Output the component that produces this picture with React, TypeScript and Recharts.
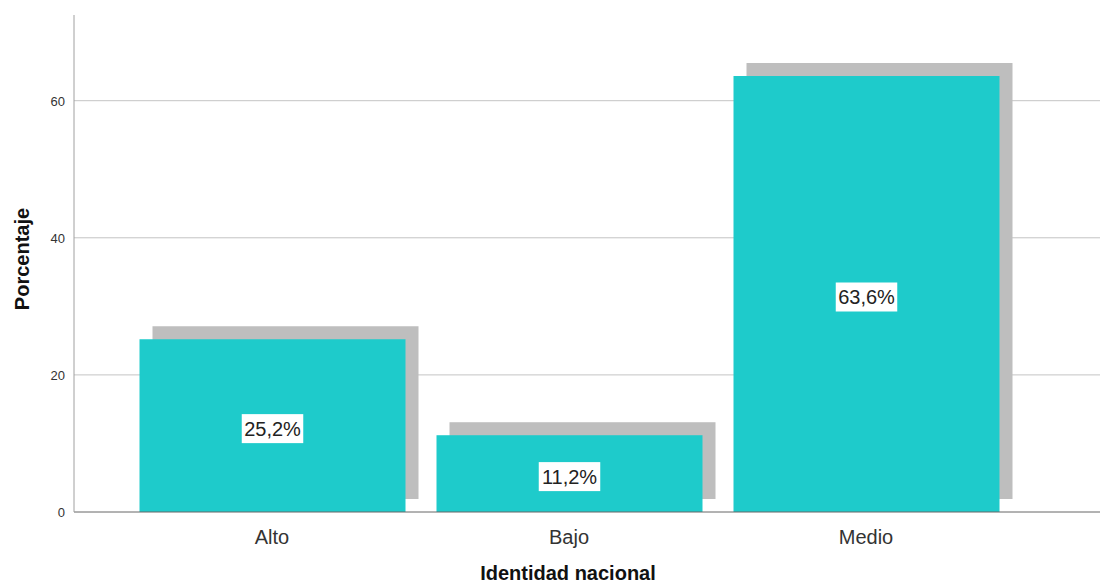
import { BarChart, Bar, XAxis, YAxis, CartesianGrid, LabelList, Label } from 'recharts';

const categories = ['Alto', 'Bajo', 'Medio'];
const percentages = [25.2, 11.2, 63.6];
const yTicks = [0, 20, 40, 60];

const data = categories.map((name, i) => ({ name, value: percentages[i] }));

const FONT = '"Liberation Sans", Arial, sans-serif';
const TEAL = '#1ecbcb';
const SHADOW = '#bebebe';

// bar with the grey drop shadow offset up and to the right
const ShadowBar = (props: any) => {
  const { x, y, width, height } = props;
  return (
    <g>
      <rect x={x + 13} y={y - 13} width={width} height={height} fill={SHADOW} />
      <rect x={x} y={y} width={width} height={height} fill={TEAL} />
    </g>
  );
};

const BoxLabel = (props: any) => {
  const { x, y, width, height, value } = props;
  const cx = x + width / 2;
  const cy = y + height / 2 + 3;
  const text = value.toFixed(1).replace('.', ',') + '%';
  const w = text.length * 11.5 + 4;
  return (
    <g>
      <rect x={cx - w / 2} y={cy - 14.5} width={w} height={29} fill="#fff" />
      <text x={cx} y={cy + 7} textAnchor="middle" fontSize={20} fontFamily={FONT} fill="#222">
        {text}
      </text>
    </g>
  );
};

const XTick = (props: any) => {
  const { x, y, payload } = props;
  return (
    <text x={x} y={y + 30} textAnchor="middle" fontSize={20} fontFamily={FONT} fill="#333">
      {payload.value}
    </text>
  );
};

const YTick = (props: any) => {
  const { x, y, payload } = props;
  return (
    <text x={x - 7} y={y + 5} textAnchor="end" fontSize={13} fontFamily={FONT} fill="#333">
      {payload.value}
    </text>
  );
};

export default function App() {
  return (
    <div style={{ position: 'absolute', left: 0, top: 0, background: '#fff' }}>
      <BarChart
        width={1101}
        height={585}
        data={data}
        margin={{ top: 15, right: 1, left: 0, bottom: 43 }}
        barSize={266}
      >
        <CartesianGrid vertical={false} stroke="#c4c4c4" horizontalValues={yTicks.slice(1)} />
        <XAxis
          dataKey="name"
          padding={{ left: 49.5, right: 85.5 }}
          tickLine={false}
          tickSize={0}
          height={30}
          tick={<XTick />}
          axisLine={{ stroke: '#666' }}
        >
          <Label
            content={() => (
              <text x={568} y={580} textAnchor="middle" fontSize={20} fontWeight="bold" fontFamily={FONT} fill="#111">
                Identidad nacional
              </text>
            )}
          />
        </XAxis>
        <YAxis
          width={74}
          domain={[0, 72.5]}
          ticks={yTicks}
          tickLine={false}
          tickSize={0}
          tick={<YTick />}
          axisLine={{ stroke: '#a0a0a0' }}
        >
          <Label
            content={() => (
              <text
                x={29}
                y={259}
                transform="rotate(-90 29 259)"
                textAnchor="middle"
                fontSize={20}
                fontWeight="bold"
                fontFamily={FONT}
                fill="#111"
              >
                Porcentaje
              </text>
            )}
          />
        </YAxis>
        <Bar dataKey="value" shape={<ShadowBar />} isAnimationActive={false}>
          <LabelList dataKey="value" content={<BoxLabel />} />
        </Bar>
      </BarChart>
    </div>
  );
}
